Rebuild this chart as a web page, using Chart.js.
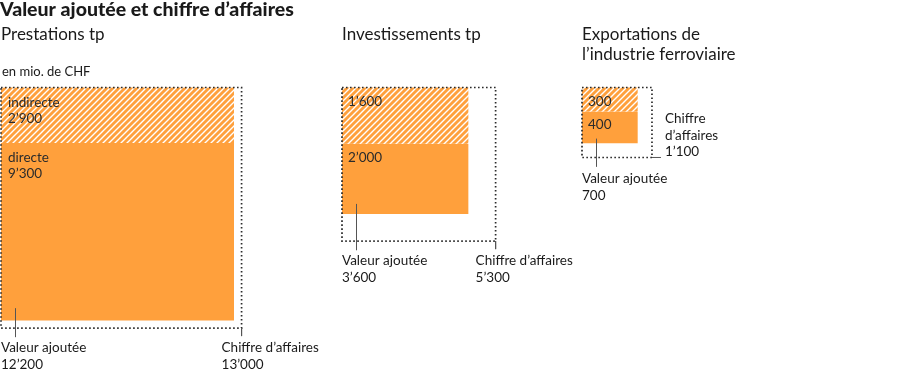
<!DOCTYPE html>
<html>
<head>
<meta charset="utf-8">
<script src="https://cdn.jsdelivr.net/npm/chart.js@4"></script>
<style>
  html, body { margin: 0; padding: 0; background: #fff; }
  #wrap { width: 900px; height: 370px; position: relative; }
</style>
</head>
<body>
<div id="wrap"><canvas id="squares"></canvas></div>
<script>
// DATA (mio. CHF)
const title = 'Valeur ajoutée et chiffre d’affaires';
const groups = [['Prestations tp'], ['Investissements tp'], ['Exportations de', 'l’industrie ferroviaire']];
const indirect = [2900, 1600, 300];
const direct = [9300, 2000, 400];
const turnover = [13000, 5300, 1100];
const partNames = ['indirecte', 'directe'];
const unitNote = 'en mio. de CHF';
const vaLabel = ['Valeur ajoutée'];
const caLabel = ['Chiffre d’affaires'];
const caLabelSide = ['Chiffre', 'd’affaires'];

// layout: square area ~ value
const originX = [1, 342, 582];
const originY = 87.5;
const pxPerRoot = 2.11;
const caPlacement = ['below', 'below', 'right'];

const orange = '#ffa03c';
const dotColor = '#2a2a2a';
const lineColor = '#555';
const font = 'Lato, "Open Sans", sans-serif';

const fmt = n => n.toString().replace(/\B(?=(\d{3})+(?!\d))/g, '’');

// hatch pattern
function makeHatch() {
    const c = document.createElement('canvas');
    c.width = 6; c.height = 6;
    const p = c.getContext('2d');
    p.fillStyle = orange;
    p.fillRect(0, 0, 6, 6);
    p.strokeStyle = '#fff';
    p.lineWidth = 1.4;
    p.beginPath();
    p.moveTo(-1, 7); p.lineTo(7, -1);
    p.moveTo(-4, 4); p.lineTo(4, -4);
    p.moveTo(2, 10); p.lineTo(10, 2);
    p.stroke();
    return p.createPattern(c, 'repeat');
}
const hatch = makeHatch();

const boxes = groups.map((g, i) => {
    const va = indirect[i] + direct[i];
    const side = pxPerRoot * Math.sqrt(va);
    const outer = pxPerRoot * Math.sqrt(turnover[i]);
    const x0 = originX[i];
    return {
        x0, va, side, outer,
        split: originY + side * indirect[i] / va,
        bottom: originY + side,
        right: x0 + side,
        outerRight: x0 + outer,
        outerBottom: originY + outer
    };
});

const none = 'rgba(0,0,0,0)';
const datasets = [];

boxes.forEach((b, i) => {
    // hatched: indirect
    datasets.push({
        data: [{ x: b.x0, y: originY }, { x: b.right, y: originY }],
        fill: { value: b.split },
        backgroundColor: hatch,
        borderColor: none, borderWidth: 0, order: 3
    });
    // solid: direct
    datasets.push({
        data: [{ x: b.x0, y: b.split }, { x: b.right, y: b.split }],
        fill: { value: b.bottom },
        backgroundColor: orange,
        borderColor: none, borderWidth: 0, order: 3
    });
    // dotted outline: turnover
    datasets.push({
        data: [
            { x: b.x0, y: originY }, { x: b.outerRight, y: originY },
            { x: b.outerRight, y: b.outerBottom }, { x: b.x0, y: b.outerBottom },
            { x: b.x0, y: originY }
        ],
        fill: false, borderColor: dotColor, borderWidth: 1.7,
        borderDash: [1.6, 2.4], order: 2
    });
    // leader to "Valeur ajoutée"
    const lx = Math.round(b.x0 + 14) + 0.5;
    datasets.push({
        data: [{ x: lx, y: b.bottom - Math.min(12, b.side * 0.08) }, { x: lx, y: b.outerBottom + 9 }],
        fill: false, borderColor: lineColor, borderWidth: 1, order: 1
    });
    // tick to "Chiffre d'affaires"
    if (caPlacement[i] === 'below') {
        datasets.push({
            data: [{ x: b.outerRight, y: b.outerBottom }, { x: b.outerRight, y: b.outerBottom + 8 }],
            fill: false, borderColor: lineColor, borderWidth: 1, order: 1
        });
    } else {
        datasets.push({
            data: [{ x: b.outerRight, y: b.outerBottom }, { x: b.outerRight + 9, y: b.outerBottom }],
            fill: false, borderColor: lineColor, borderWidth: 1, order: 1
        });
    }
});

const textPlugin = {
    id: 'texts',
    afterDatasetsDraw(chart) {
        const { ctx, scales: { x, y } } = chart;
        const put = (txt, vx, vy, f, col) => {
            ctx.font = f;
            ctx.fillStyle = col || '#1a1a1a';
            ctx.fillText(txt, x.getPixelForValue(vx), y.getPixelForValue(vy));
        };
        ctx.save();
        ctx.textAlign = 'left';
        ctx.textBaseline = 'alphabetic';
        const lbl = '13.5px ' + font;
        put(title, 0, 16, '900 19.5px ' + font);
        put(unitNote, 2, 76, '13px ' + font);
        boxes.forEach((b, i) => {
            groups[i].forEach((t, k) => put(t, b.x0, 40 + k * 19.5, '17px ' + font));
            // inside labels
            const tx = b.x0 + 7;
            if (i === 0) {
                put(partNames[0], tx, originY + 19, lbl, '#2b2b2b');
                put(fmt(indirect[i]), tx, originY + 35, lbl, '#2b2b2b');
                put(partNames[1], tx, b.split + 19, lbl, '#2b2b2b');
                put(fmt(direct[i]), tx, b.split + 35, lbl, '#2b2b2b');
            } else {
                put(fmt(indirect[i]), tx - 1, originY + 18, lbl, '#2b2b2b');
                put(fmt(direct[i]), tx - 1, b.split + 18, lbl, '#2b2b2b');
            }
            // value added label
            const vb = b.outerBottom + 24 + (i === 2 ? 2 : 0);
            put(vaLabel[0], b.x0, vb, lbl);
            put(fmt(b.va), b.x0, vb + 16.5, lbl);
            // turnover label
            if (caPlacement[i] === 'below') {
                put(caLabel[0], b.outerRight - 20, vb, lbl);
                put(fmt(turnover[i]), b.outerRight - 20, vb + 16.5, lbl);
            } else {
                const bx = b.outerRight + 13;
                put(caLabelSide[0], bx, b.outerBottom - 34, lbl);
                put(caLabelSide[1], bx, b.outerBottom - 17.5, lbl);
                put(fmt(turnover[i]), bx, b.outerBottom - 1, lbl);
            }
        });
        ctx.restore();
    }
};

new Chart(document.getElementById('squares'), {
    type: 'line',
    data: { datasets: datasets },
    options: {
        responsive: true,
        maintainAspectRatio: false,
        animation: false,
        layout: { padding: 0 },
        elements: { point: { radius: 0, hoverRadius: 0 }, line: { tension: 0 } },
        plugins: { legend: { display: false }, tooltip: { enabled: false } },
        events: [],
        scales: {
            x: { type: 'linear', min: 0, max: 900, display: false },
            y: { type: 'linear', min: 0, max: 370, reverse: true, display: false }
        }
    },
    plugins: [textPlugin]
});
</script>
</body>
</html>
